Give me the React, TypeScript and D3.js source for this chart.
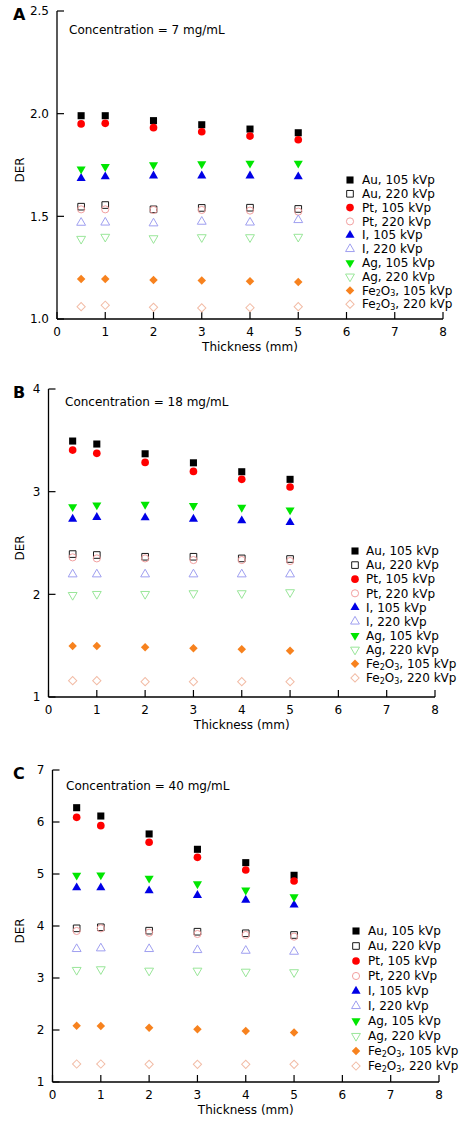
import React from "react";
import * as d3 from "d3";

// ---------- DATA ----------
const thickness = [0.5, 1, 2, 3, 4, 5];
const xTicks = [0, 1, 2, 3, 4, 5, 6, 7, 8];

const seriesNames = [
  "Au, 105 kVp", "Au, 220 kVp", "Pt, 105 kVp", "Pt, 220 kVp", "I, 105 kVp",
  "I, 220 kVp", "Ag, 105 kVp", "Ag, 220 kVp", "Fe2O3, 105 kVp", "Fe2O3, 220 kVp",
];

// Panel A: 7 mg/mL
const aAu105 = [1.99, 1.99, 1.966, 1.946, 1.925, 1.907];
const aAu220 = [1.547, 1.555, 1.534, 1.541, 1.542, 1.536];
const aPt105 = [1.95, 1.953, 1.932, 1.912, 1.891, 1.873];
const aPt220 = [1.534, 1.534, 1.531, 1.531, 1.528, 1.523];
const aI105 = [1.685, 1.693, 1.697, 1.697, 1.697, 1.693];
const aI220 = [1.469, 1.47, 1.466, 1.474, 1.47, 1.482];
const aAg105 = [1.73, 1.742, 1.75, 1.755, 1.758, 1.758];
const aAg220 = [1.39, 1.4, 1.393, 1.398, 1.398, 1.4];
const aFe105 = [1.195, 1.195, 1.19, 1.187, 1.184, 1.18];
const aFe220 = [1.06, 1.067, 1.057, 1.054, 1.055, 1.06];

// Panel B: 18 mg/mL
const bAu105 = [3.493, 3.464, 3.369, 3.281, 3.194, 3.12];
const bAu220 = [2.392, 2.383, 2.366, 2.366, 2.35, 2.344];
const bPt105 = [3.405, 3.373, 3.285, 3.197, 3.12, 3.045];
const bPt220 = [2.36, 2.35, 2.35, 2.334, 2.334, 2.324];
const bI105 = [2.733, 2.75, 2.747, 2.733, 2.717, 2.7];
const bI220 = [2.195, 2.195, 2.195, 2.195, 2.195, 2.195];
const bAg105 = [2.853, 2.87, 2.876, 2.863, 2.847, 2.821];
const bAg220 = [1.993, 2.003, 2.003, 2.01, 2.01, 2.02];
const bFe105 = [1.497, 1.497, 1.484, 1.474, 1.464, 1.45];
const bFe220 = [1.159, 1.159, 1.149, 1.149, 1.149, 1.149];

// Panel C: 40 mg/mL
const cAu105 = [6.275, 6.115, 5.77, 5.475, 5.218, 4.975];
const cAu220 = [3.955, 3.975, 3.91, 3.89, 3.86, 3.827];
const cPt105 = [6.09, 5.93, 5.61, 5.32, 5.077, 4.865];
const cPt220 = [3.904, 3.955, 3.87, 3.846, 3.827, 3.795];
const cI105 = [4.737, 4.737, 4.68, 4.59, 4.5, 4.404];
const cI220 = [3.558, 3.571, 3.558, 3.538, 3.525, 3.506];
const cAg105 = [4.975, 4.98, 4.917, 4.808, 4.69, 4.56];
const cAg220 = [3.154, 3.167, 3.14, 3.14, 3.12, 3.11];
const cFe105 = [2.083, 2.077, 2.045, 2.013, 1.98, 1.95];
const cFe220 = [1.346, 1.346, 1.34, 1.34, 1.34, 1.34];

const aTicks = [1.0, 1.5, 2.0, 2.5];
const bTicks = [1, 2, 3, 4];
const cTicks = [1, 2, 3, 4, 5, 6, 7];

// ---------- STYLE ----------
type Sty = { shape: d3.SymbolType; rot: number; size: number; fill: string; stroke: string };
const styles: Sty[] = [
  { shape: d3.symbolSquare, rot: 0, size: 50, fill: "#000000", stroke: "none" },
  { shape: d3.symbolSquare, rot: 0, size: 44, fill: "none", stroke: "#1a1a1a" },
  { shape: d3.symbolCircle, rot: 0, size: 46, fill: "#ff0000", stroke: "none" },
  { shape: d3.symbolCircle, rot: 0, size: 40, fill: "none", stroke: "#f2a0a0" },
  { shape: d3.symbolTriangle, rot: 0, size: 36, fill: "#0000e6", stroke: "none" },
  { shape: d3.symbolTriangle, rot: 0, size: 34, fill: "none", stroke: "#9f9ff0" },
  { shape: d3.symbolTriangle, rot: 180, size: 36, fill: "#00e600", stroke: "none" },
  { shape: d3.symbolTriangle, rot: 180, size: 34, fill: "none", stroke: "#99e699" },
  { shape: d3.symbolSquare, rot: 45, size: 36, fill: "#f7821e", stroke: "none" },
  { shape: d3.symbolSquare, rot: 45, size: 34, fill: "none", stroke: "#f2bca6" },
];

const FONT = "'DejaVu Sans', Verdana, sans-serif";
const FS = 12;

type Panel = {
  label: string;
  conc: string;
  series: number[][];
  yDomain: [number, number];
  yTicks: number[];
  yFmt: (v: number) => string;
  x0: number; x1: number; yTop: number; yBot: number;
  labelY: number; concX: number; concY: number;
  legX: number; legTextX: number; legY0: number; legDy: number;
};

const panels: Panel[] = [
  {
    label: "A", conc: "Concentration = 7 mg/mL",
    series: [aAu105, aAu220, aPt105, aPt220, aI105, aI220, aAg105, aAg220, aFe105, aFe220],
    yDomain: [1, 2.5], yTicks: aTicks, yFmt: d3.format(".1f"),
    x0: 57, x1: 443, yTop: 11, yBot: 319,
    labelY: 20, concX: 69, concY: 34,
    legX: 350, legTextX: 362, legY0: 180, legDy: 13.8,
  },
  {
    label: "B", conc: "Concentration = 18 mg/mL",
    series: [bAu105, bAu220, bPt105, bPt220, bI105, bI220, bAg105, bAg220, bFe105, bFe220],
    yDomain: [1, 4], yTicks: bTicks, yFmt: d3.format("d"),
    x0: 48.5, x1: 435, yTop: 389, yBot: 697,
    labelY: 398, concX: 65, concY: 406,
    legX: 355, legTextX: 366, legY0: 551, legDy: 14.1,
  },
  {
    label: "C", conc: "Concentration = 40 mg/mL",
    series: [cAu105, cAu220, cPt105, cPt220, cI105, cI220, cAg105, cAg220, cFe105, cFe220],
    yDomain: [1, 7], yTicks: cTicks, yFmt: d3.format("d"),
    x0: 52.5, x1: 439, yTop: 770, yBot: 1082,
    labelY: 779, concX: 66, concY: 790,
    legX: 356, legTextX: 368, legY0: 931, legDy: 15,
  },
];

function LegendText({ name, x, y }: { name: string; x: number; y: number }) {
  if (name.startsWith("Fe2O3")) {
    const rest = name.slice(5);
    return (
      <text x={x} y={y} dy="0.35em" fontSize={FS} fontFamily={FONT} fill="#000">
        Fe<tspan fontSize={8} dy={1.5}>2</tspan>
        <tspan dy={-1.5}>O</tspan>
        <tspan fontSize={8} dy={1.5}>3</tspan>
        <tspan dy={-1.5}>{rest}</tspan>
      </text>
    );
  }
  return (
    <text x={x} y={y} dy="0.35em" fontSize={FS} fontFamily={FONT} fill="#000">
      {name}
    </text>
  );
}

function Marker({ s, x, y }: { s: Sty; x: number; y: number }) {
  const path = d3.symbol().type(s.shape).size(s.size)() || "";
  return (
    <path
      d={path}
      transform={`translate(${x},${y}) rotate(${s.rot})`}
      fill={s.fill}
      stroke={s.stroke}
      strokeWidth={s.stroke === "none" ? 0 : 1}
    />
  );
}

function PanelView({ p }: { p: Panel }) {
  const x = d3.scaleLinear().domain([0, 8]).range([p.x0, p.x1]);
  const y = d3.scaleLinear().domain(p.yDomain).range([p.yBot, p.yTop]);
  const tickLen = 7;
  return (
    <g>
      <text x={13} y={p.labelY} fontSize={16} fontWeight="bold" fontFamily={FONT}>{p.label}</text>
      {/* axes */}
      <line x1={p.x0} x2={p.x0} y1={p.yTop} y2={p.yBot} stroke="#000" strokeWidth={1.3} />
      <line x1={p.x0} x2={p.x1} y1={p.yBot} y2={p.yBot} stroke="#000" strokeWidth={1.3} />
      {p.yTicks.map((t) => (
        <g key={"y" + t}>
          <line x1={p.x0} x2={p.x0 + tickLen} y1={y(t)} y2={y(t)} stroke="#000" strokeWidth={1.2} />
          <text x={p.x0 - 8} y={y(t)} dy="0.35em" textAnchor="end" fontSize={FS} fontFamily={FONT}>
            {p.yFmt(t)}
          </text>
        </g>
      ))}
      {xTicks.map((t) => (
        <g key={"x" + t}>
          <line x1={x(t)} x2={x(t)} y1={p.yBot} y2={p.yBot - tickLen} stroke="#000" strokeWidth={1.2} />
          <text x={x(t)} y={p.yBot + 13} dy="0.35em" textAnchor="middle" fontSize={FS} fontFamily={FONT}>
            {t}
          </text>
        </g>
      ))}
      <text x={(p.x0 + p.x1) / 2} y={p.yBot + 28} dy="0.35em" textAnchor="middle" fontSize={FS} fontFamily={FONT}>
        Thickness (mm)
      </text>
      <text
        transform={`translate(20,${(p.yTop + p.yBot) / 2 + 5}) rotate(-90)`}
        textAnchor="middle" dy="0.35em" fontSize={FS} fontFamily={FONT}
      >
        DER
      </text>
      <text x={p.concX} y={p.concY} fontSize={FS} fontFamily={FONT}>{p.conc}</text>
      {/* data */}
      {p.series.map((vals, si) => (
        <g key={"s" + si}>
          {vals.map((v, i) => (
            <Marker key={i} s={styles[si]} x={x(thickness[i])} y={y(v)} />
          ))}
        </g>
      ))}
      {/* legend */}
      {seriesNames.map((n, i) => (
        <g key={"l" + i}>
          <Marker s={styles[i]} x={p.legX} y={p.legY0 + i * p.legDy} />
          <LegendText name={n} x={p.legTextX} y={p.legY0 + i * p.legDy} />
        </g>
      ))}
    </g>
  );
}

export default function App() {
  return (
    <svg
      width={460}
      height={1128}
      viewBox="0 0 460 1128"
      style={{ position: "absolute", left: 0, top: 0, background: "#fff" }}
    >
      <rect width={460} height={1128} fill="#fff" />
      {panels.map((p) => (
        <PanelView key={p.label} p={p} />
      ))}
    </svg>
  );
}
